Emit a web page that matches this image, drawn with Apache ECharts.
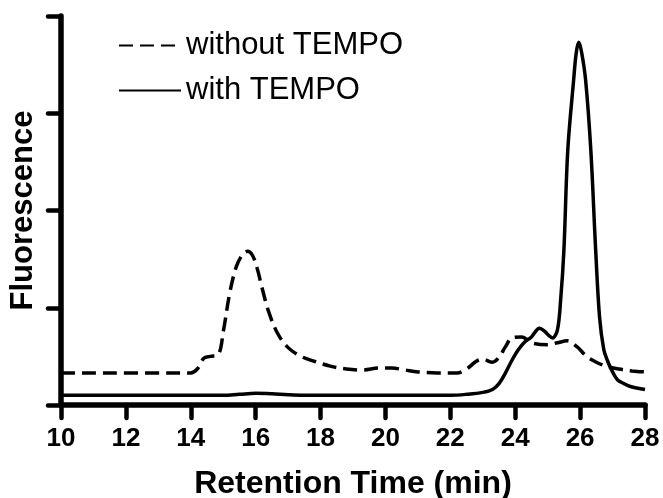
<!DOCTYPE html>
<html>
<head>
<meta charset="utf-8">
<script src="https://cdn.jsdelivr.net/npm/echarts@6/dist/echarts.min.js"></script>
<style>
  html, body { margin: 0; padding: 0; background: #fff; }
  #chart { width: 663px; height: 498px; }
</style>
</head>
<body>
<div id="chart"></div>
<script>
const FONT = "'Liberation Sans', Arial, Helvetica, sans-serif";
const INK = "#000";

// x ticks (retention time, min)
const xTicks = [10, 12, 14, 16, 18, 20, 22, 24, 26, 28];

// without TEMPO (dashed)
const withoutTime = [10, 14.0, 14.2, 14.4, 14.6, 14.85, 15.0, 15.2, 15.4, 15.6, 15.75, 15.9, 16.05, 16.2, 16.4, 16.67, 17.0, 17.4, 17.8, 18.3, 18.8, 19.3, 19.8, 20.2, 20.6, 21.0, 21.6, 22.2, 22.5, 22.8, 23.0, 23.3, 23.5, 23.7, 23.9, 24.2, 24.5, 25.0, 25.3, 25.6, 25.9, 26.2, 26.5, 26.8, 27.2, 27.6, 28.0];
const withoutValue = [0.33, 0.33, 0.37, 0.48, 0.50, 0.52, 0.75, 1.15, 1.42, 1.55, 1.58, 1.54, 1.40, 1.20, 0.96, 0.74, 0.59, 0.50, 0.45, 0.40, 0.37, 0.36, 0.38, 0.38, 0.36, 0.34, 0.33, 0.33, 0.37, 0.45, 0.47, 0.44, 0.49, 0.60, 0.69, 0.70, 0.64, 0.62, 0.64, 0.66, 0.60, 0.50, 0.44, 0.40, 0.37, 0.35, 0.34];

// with TEMPO (solid)
const withTime = [10, 15.0, 15.5, 16.0, 16.5, 17.0, 17.5, 22.0, 22.5, 23.0, 23.3, 23.5, 23.7, 23.9, 24.1, 24.3, 24.5, 24.75, 24.9, 25.05, 25.15, 25.3, 25.4, 25.5, 25.62, 25.8, 25.88, 25.96, 26.05, 26.17, 26.33, 26.48, 26.6, 26.73, 26.85, 27.0, 27.15, 27.35, 27.55, 28.0];
const withValue = [0.10, 0.10, 0.11, 0.12, 0.115, 0.105, 0.10, 0.10, 0.11, 0.13, 0.16, 0.22, 0.33, 0.46, 0.57, 0.65, 0.70, 0.79, 0.76, 0.71, 0.69, 0.77, 1.08, 1.59, 2.62, 3.34, 3.62, 3.73, 3.62, 3.34, 2.62, 1.59, 0.90, 0.57, 0.45, 0.34, 0.26, 0.22, 0.19, 0.16];

const pairs = (xs, ys) => xs.map((x, i) => [x, ys[i]]);

const chart = echarts.init(document.getElementById("chart"), null, { renderer: "canvas" });

const axisLine = { show: true, lineStyle: { color: INK, width: 5.5, cap: "round" } };
const axisTick = { show: true, inside: false, length: 13, lineStyle: { color: INK, width: 4.5, cap: "round" } };

chart.setOption({
  animation: false,
  backgroundColor: "#fff",
  grid: { left: 61, right: 18, top: 16, bottom: 93, containLabel: false, outerBoundsMode: "none" },
  legend: {
    orient: "vertical",
    left: 113,
    top: 25,
    itemWidth: 62,
    itemHeight: 20,
    itemGap: 14,
    itemStyle: { opacity: 0 },
    textStyle: { color: INK, fontSize: 31, fontFamily: FONT },
    data: ["without TEMPO", "with TEMPO"]
  },
  xAxis: {
    type: "value",
    min: 10,
    max: 28,
    interval: 2,
    axisLine,
    axisTick,
    splitLine: { show: false },
    axisLabel: { color: INK, fontSize: 26, fontWeight: "bold", fontFamily: FONT, margin: 21, formatter: (v) => (xTicks.includes(v) ? String(v) : "") },
    name: "Retention Time (min)",
    nameLocation: "middle",
    nameGap: 63,
    nameTextStyle: { color: INK, fontSize: 32, fontWeight: "bold", fontFamily: FONT }
  },
  yAxis: {
    type: "value",
    min: 0,
    max: 4,
    interval: 1,
    axisLine,
    axisTick,
    splitLine: { show: false },
    axisLabel: { show: false },
    name: "Fluorescence",
    nameLocation: "middle",
    nameRotate: 90,
    nameGap: 22,
    nameTextStyle: { color: INK, fontSize: 31, fontWeight: "bold", fontFamily: FONT }
  },
  series: [
    {
      name: "without TEMPO",
      type: "line",
      data: pairs(withoutTime, withoutValue),
      showSymbol: false,
      symbol: "none",
      smooth: 0.35,
      lineStyle: { color: INK, width: 3.5, type: [14, 7] },
      itemStyle: { color: INK }
    },
    {
      name: "with TEMPO",
      type: "line",
      data: pairs(withTime, withValue),
      showSymbol: false,
      symbol: "none",
      smooth: 0.35,
      lineStyle: { color: INK, width: 3.5 },
      itemStyle: { color: INK }
    }
  ]
});
</script>
</body>
</html>
